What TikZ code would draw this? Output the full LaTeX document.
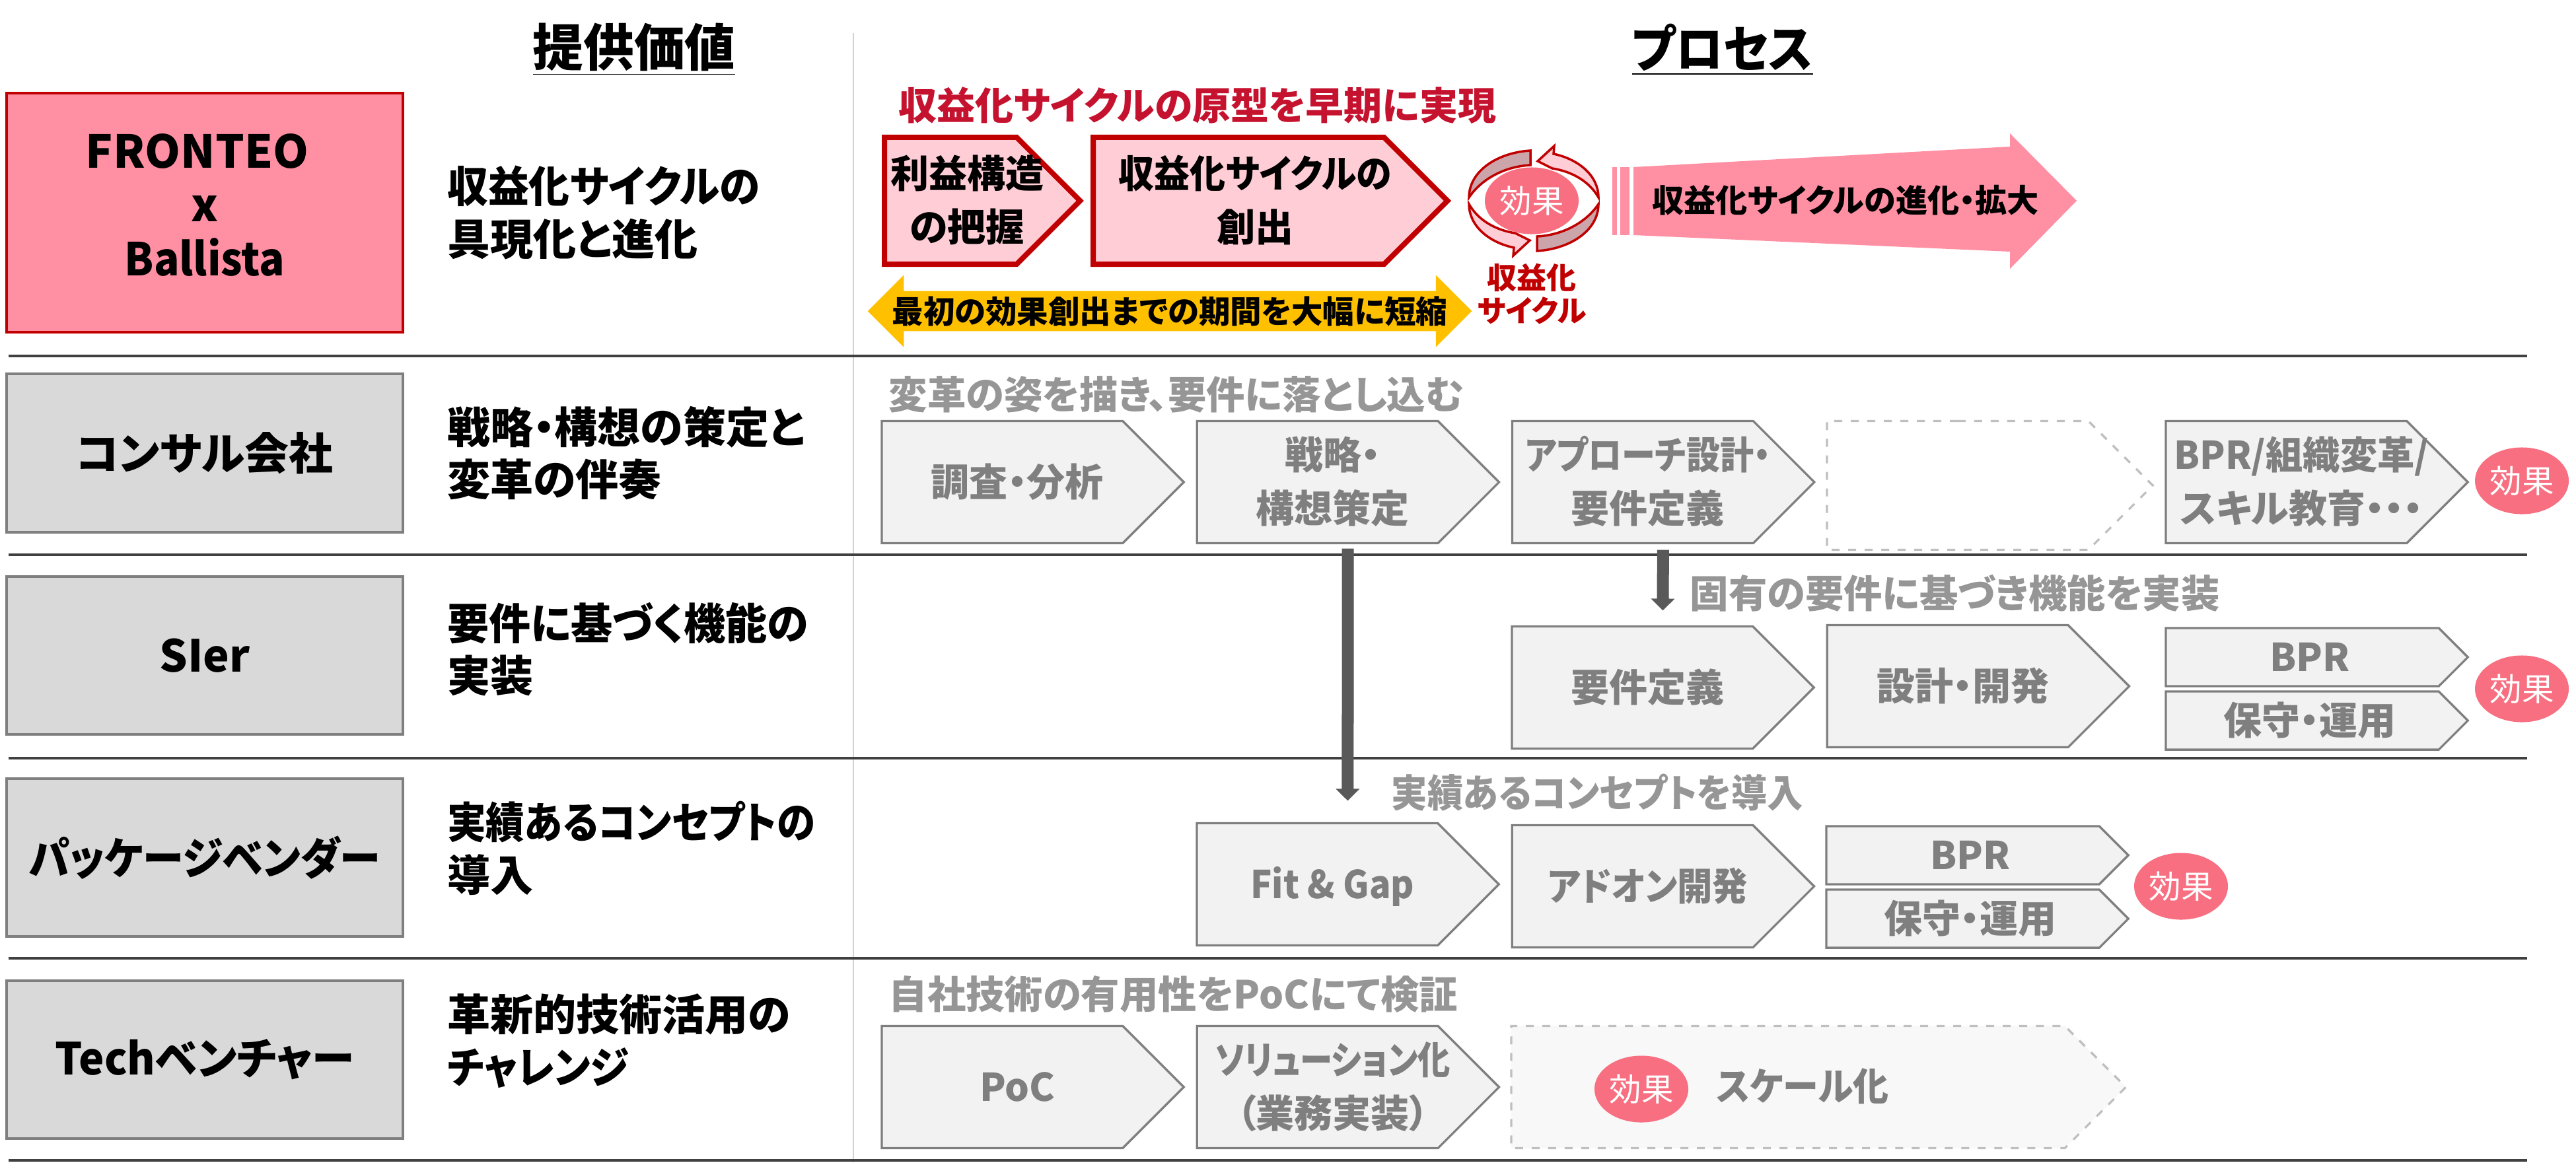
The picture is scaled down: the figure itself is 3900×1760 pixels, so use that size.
\documentclass[tikz,border=0pt]{standalone}
\usepackage{fontspec}
\setmainfont{Noto Sans CJK JP}[RawFeature=+palt]
\usetikzlibrary{positioning,shapes.symbols,shapes.arrows,shapes.geometric,arrows.meta}

\definecolor{boxgray}{HTML}{7F7F7F}
\definecolor{capgray}{HTML}{969696}
\definecolor{boxfill}{HTML}{F2F2F2}
\definecolor{rowfill}{HTML}{D9D9D9}
\definecolor{dashgray}{HTML}{BFBFBF}
\definecolor{rulegray}{HTML}{404040}
\definecolor{deepred}{HTML}{C00000}
\definecolor{capred}{HTML}{C5122F}
\definecolor{rowpink}{HTML}{FF8FA3}
\definecolor{lightpink}{HTML}{FFCDD5}
\definecolor{dullpink}{HTML}{CBA5AA}
\definecolor{effectpink}{HTML}{F76F80}
\definecolor{goldbar}{HTML}{FFC000}

\newcommand{\squeeze}[1]{\addfontfeature{FakeStretch=#1}}
\newcommand{\steptext}[2][0.46cm]{\raisebox{-0.2cm}[0pt][0pt]{\makebox[0pt]{\hspace{#1}\begin{tabular}{@{}c@{}}#2\end{tabular}}}}

\tikzset{
    rowbox/.style={draw=boxgray, fill=rowfill, line width=0.04cm,
        minimum width=6cm, minimum height=2.39cm, inner sep=0pt, outer sep=0pt,
        align=center, font=\fontsize{19}{28}\selectfont\bfseries},
    rowtext/.style={align=left, inner sep=0pt, outer sep=0pt,
        font=\fontsize{18.5}{22.7}\selectfont\bfseries},
    stepbox/.style={signal, signal to=east, signal from=nowhere,
        draw=boxgray, fill=boxfill, text=boxgray, line width=0.033cm,
        minimum width=4.57cm, minimum height=1.85cm, inner sep=0pt, outer sep=0pt,
        font=\fontsize{16.5}{23.2}\selectfont\bfseries},
    halfbox/.style={stepbox, minimum height=0.88cm},
    redbox/.style={stepbox, draw=deepred, fill=lightpink, text=black,
        line width=0.08cm, minimum height=1.92cm},
    openbox/.style={stepbox, draw=dashgray, fill=white, dash pattern=on 0.12cm off 0.13cm},
    effect/.style={ellipse, fill=effectpink, text=white, inner sep=0pt, outer sep=0pt,
        minimum width=1.42cm, minimum height=1.01cm,
        font=\fontsize{13.8}{16}\selectfont},
    caption/.style={inner sep=0pt, text=capgray,
        font=\fontsize{16.6}{20}\selectfont\bfseries},
    heading/.style={inner sep=0pt, font=\fontsize{21.8}{26}\selectfont\bfseries},
    flowarrow/.style={draw=black!65, line width=0.18cm,
        -{Triangle[width=0.35cm, length=0.18cm]}},
    cyclepart/.style={draw=deepred, line width=0.035cm, line join=miter}
}

\begin{document}
\begin{tikzpicture}[x=0.01cm, y=-0.01cm]
    \useasboundingbox (0,0) rectangle (3900,1760);

    \draw[dashgray!70, line width=0.025cm] (1292,50) -- (1292,1760);
    \foreach \y in {539,840,1148,1451,1757}
        \draw[rulegray, line width=0.035cm] (13,\y) -- (3826,\y);

    \node[heading] (valuehead) at (960,75) {\underline{提供価値}};
    \node[heading] (processhead) at (2608,75) {\underline{\squeeze{.93}プロセス}};

    \node[rowbox, draw=deepred, fill=rowpink, minimum height=3.61cm,
        font=\fontsize{19.5}{23}\selectfont\bfseries]
        (fronteo) at (310,322) {\raisebox{0.04cm}[0pt][0pt]{\steptext[0pt]{FRONTEO\hspace*{0.23cm}\\x\\{\squeeze{.93}Ballista}}}};
    \node[rowbox] (consult) at (310,686) {コンサル会社};
    \node[rowbox, below=0.67cm of consult] (sier) {SIer};
    \node[rowbox, below=0.67cm of sier] (vendor) {\squeeze{.93}パッケージベンダー};
    \node[rowbox, below=0.67cm of vendor] (venture) {\squeeze{.97}Techベンチャー};

    \node[rowtext, right=0.67cm of fronteo] (fronteotext) {{\squeeze{.95}収益化サイクルの}\\具現化と進化};
    \node[rowtext, right=0.67cm of consult] (consulttext) {戦略・構想の策定と\\変革の伴奏};
    \node[rowtext, right=0.67cm of sier, yshift=0.09cm] (siertext) {{\squeeze{.97}要件に基づく機能の}\\実装};
    \node[rowtext, right=0.67cm of vendor, yshift=0.14cm] (vendortext) {{\squeeze{.9}実績あるコンセプトの}\\導入};
    \node[rowtext, right=0.67cm of venture, yshift=0.28cm] (venturetext) {革新的技術活用の\\{\squeeze{.92}チャレンジ}};

    \node[inner sep=0pt, text=capred, font=\fontsize{16.5}{20}\selectfont\bfseries]
        (protohead) at (1813,160) {収益化サイクルの原型を早期に実現};
    \node[redbox, minimum width=2.96cm, anchor=west] (profit) at (1339,304) {\steptext[0.5cm]{利益構造\\の把握}};
    \node[redbox, minimum width=5.36cm, right=0.2cm of profit] (create) {\steptext[0.5cm]{{\squeeze{.93}収益化サイクルの}\\創出}};

    \foreach \ang in {0,180} {
        \begin{scope}[shift={(2322,304)}, rotate=\ang]
            \filldraw[cyclepart, fill=dullpink] (-5,-76) .. controls (-55,-73) and (-98,-45) .. (-98,-5)
                .. controls (-80,-32) and (-45,-52) .. (-5,-54) -- cycle;
            \filldraw[cyclepart, fill=lightpink] (6,-60) -- (31,-83) -- (30,-71)
                .. controls (68,-63) and (98,-38) .. (98,-5)
                .. controls (85,-28) and (60,-44) .. (28,-49) -- cycle;
        \end{scope}
    }
    \node[effect] (effecta) at (2319,304) {効果};
    \node[inner sep=0pt, text=deepred, align=center, font=\fontsize{12.8}{14.2}\selectfont\bfseries,
        below=0.44cm of effecta] (cycletext) {収益化\\サイクル};

    \fill[rowpink] (2441,253) rectangle (2448,356);
    \fill[rowpink] (2453,253) rectangle (2467,356);
    \fill[rowpink] (2473,253) -- (3043,222) -- (3043,202) -- (3144,304)
        -- (3043,407) -- (3043,381) -- (2473,356) -- cycle;
    \node[inner sep=0pt, font=\fontsize{13.7}{17}\selectfont\bfseries]
        (growtext) at (2794,303) {収益化サイクルの進化・拡大};

    \node[double arrow, fill=goldbar, inner sep=0pt, outer sep=0pt,
        minimum height=9.14cm, minimum width=1.09cm,
        double arrow head extend=0.185cm,
        font=\fontsize{13.5}{16}\selectfont\bfseries]
        (shorten) at (1771,471) {最初の効果創出までの期間を大幅に短縮};

    \node[caption, anchor=west] (consulthead) at (1345,597) {変革の姿を描き、要件に落とし込む};
    \node[stepbox, anchor=west] (survey) at (1335,730) {\steptext{調査・分析}};
    \node[stepbox, right=0.2cm of survey] (strategy) {\steptext{戦略・\\構想策定}};
    \node[stepbox, right=0.2cm of strategy] (approach) {\steptext{{\squeeze{.88}アプローチ設計・}\\要件定義}};
    \node[openbox, minimum width=4.93cm, minimum height=1.95cm, anchor=west] (blankstep) at (2766,735) {};
    \node[stepbox, anchor=west] (bpr) at (3279,730) {\steptext{{\squeeze{.97}BPR/組織変革/}\\スキル教育・・・}};
    \node[effect] (effectb) at (3818,728) {効果};

    \node[caption, anchor=west] (sierhead) at (2558,898) {固有の要件に基づき機能を実装};
    \node[stepbox, anchor=west] (require) at (2289,1041) {\steptext{要件定義}};
    \node[stepbox, right=0.2cm of require, yshift=0.02cm] (design) {\steptext{設計・開発}};
    \node[halfbox, anchor=west] (bprb) at (3279,995) {\steptext[0.22cm]{BPR}};
    \node[halfbox, below=0.08cm of bprb] (supportb) {\steptext[0.22cm]{保守・運用}};
    \node[effect] (effectc) at (3818,1043) {効果};

    \node[caption, anchor=west] (vendorhead) at (2106,1200) {{\squeeze{.93}実績あるコンセプトを導入}};
    \node[stepbox, anchor=west] (fitgap) at (1812,1339) {\steptext{\squeeze{.93}Fit \& Gap}};
    \node[stepbox, right=0.2cm of fitgap, yshift=-0.03cm] (addon) {\steptext{\squeeze{.92}アドオン開発}};
    \node[halfbox, anchor=west] (bprc) at (2765,1295) {\steptext[0.22cm]{BPR}};
    \node[halfbox, below=0.08cm of bprc] (supportc) {\steptext[0.22cm]{保守・運用}};
    \node[effect] (effectd) at (3302,1342) {効果};

    \node[caption, anchor=west] (venturehead) at (1345,1505) {自社技術の有用性をPoCにて検証};
    \node[stepbox, anchor=west] (poc) at (1335,1646) {\steptext{PoC}};
    \node[stepbox, right=0.2cm of poc] (solution) {\steptext{{\squeeze{.85}ソリューション化}\\（業務実装）}};
    \node[openbox, minimum width=9.3cm, fill=boxfill!50, anchor=west] (scale) at (2288,1646) {};
    \node[effect] (effecte) at (2485,1649) {効果};
    \node[inner sep=0pt, text=boxgray, font=\fontsize{16.5}{20}\selectfont\bfseries]
        (scaletext) at (2729,1645) {\squeeze{.93}スケール化};

    \draw[flowarrow] ([shift={(0.46cm,-0.08cm)}]strategy.south) -- ([shift={(0.46cm,0.34cm)}]fitgap.north);
    \draw[flowarrow] ([shift={(0.46cm,-0.1cm)}]approach.south) -- ([shift={(0.46cm,0.24cm)}]require.north);
\end{tikzpicture}
\end{document}
